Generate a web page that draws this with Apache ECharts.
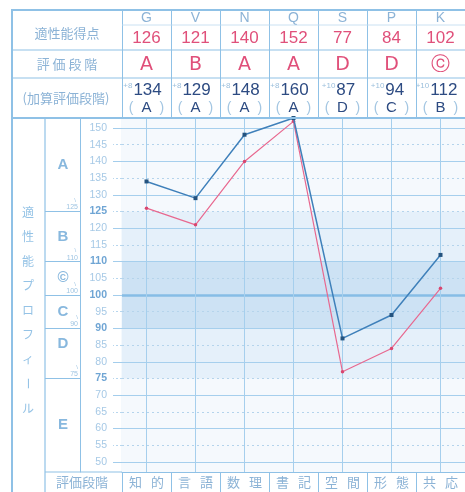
<!DOCTYPE html>
<html><head><meta charset="utf-8">
<script src="https://cdn.jsdelivr.net/npm/echarts@6/dist/echarts.min.js"></script>
<style>html,body{margin:0;padding:0;background:#fff}#c{width:465px;height:492px}</style>
</head><body><div id="c"></div>
<script>
// ---- data ----
const categories = ['知的','言語','数理','書記','空間','形態','共応'];
const codes = ['G','V','N','Q','S','P','K'];
const scores = [126,121,140,152,77,84,102];
const grades = ['A','B','A','A','D','D','ⓒ'];
const bonus = ['+8','+8','+8','+8','+10','+10','+10'];
const adjusted = [134,129,148,160,87,94,112];
const adjustedGrades = ['A','A','A','A','D','C','B'];
const scoreLine = [126,121,140,152,77,84,102];
const adjustedLine = [134,129,148,153,87,94,112]; // Q drawn at the top edge
const yLabels = [50,55,60,65,70,75,80,85,90,95,100,105,110,115,120,125,130,135,140,145,150];
const majorTicks = [50,60,70,80,90,100,110,120,130,140,150];
const minorTicks = [55,65,75,85,95,105,115,125,135,145];
const gradeBounds = [125,110,100,90,75];
const gradeNames = ['A','B','©','C','D','E'];
const gradeNamePos = [139,117.5,105,95,85.5,61];
const profileTitle = '適性能プロフィール';
const rowTitles = ['適性能得点','評 価 段 階','(加算評価段階)'];
const bottomTitle = '評価段階';

// ---- styles ----
const JP = '"Noto Sans CJK JP", sans-serif';
const NUM = '"Liberation Sans", Arial, sans-serif';
const FORM = '#8fc1e6';
const TXT = '#8cb3d6';
const PINK = '#e0507a';
const NAVY = '#2d4b82';
const Y_MIN = 47, Y_MAX = 153;

const chart = echarts.init(document.getElementById('c'));

function topAxis(offset, formatter, rich, fontSize, color, fontFamily) {
  return {
    type: 'category', data: codes, position: 'top', offset: offset, boundaryGap: true,
    axisLine: {show: false}, axisTick: {show: false}, splitLine: {show: false},
    axisLabel: {interval: 0, margin: 0, verticalAlign: 'middle', formatter: formatter,
      rich: rich, fontSize: fontSize, color: color, fontFamily: fontFamily}
  };
}

const graphic = [];
function L(x1,y1,x2,y2,w,c){graphic.push({type:'line',silent:true,z:50,shape:{x1,y1,x2,y2},style:{stroke:c||FORM,lineWidth:w||1}});}
function T(x,y,text,size,color,extra){graphic.push(Object.assign({type:'text',silent:true,z:50,x:x,y:y,style:{text:text,fill:color||TXT,font:(size||13)+'px '+JP,align:'center',verticalAlign:'middle'}},extra||{}));}
L(12,10,465,10,2);
L(12,9,12,492,2);
L(122,25,465,25,0.8,'#bcd9ef');
L(12,50,465,50,1.2);
L(12,78,465,78,1.2);
L(12,118,465,118,2);
L(45,118,45,492,1.2);
L(45,472,122,472,1.2);
T(67,33,rowTitles[0],13);
T(67,64,rowTitles[1],13);
T(66,98,rowTitles[2],13);
T(82,482,bottomTitle,13);
for (let i=0;i<profileTitle.length;i++){
  const ch = profileTitle[i];
  const y = 212 + i*24.5;
  if (ch === 'ー') T(28,y,ch,12,'#95c3e6',{rotation:-Math.PI/2});
  else T(28,y,ch,12,'#95c3e6');
}

const option = {
  animation: false,
  backgroundColor: '#ffffff',
  grid: {left:122, top:118, width:348, height:354},
  graphic: graphic,
  xAxis: [
    {type:'category', data:categories, position:'bottom', boundaryGap:true,
     axisLine:{show:true, lineStyle:{color:FORM, width:1.2}},
     axisTick:{show:true, length:20, lineStyle:{color:FORM, width:1}},
     axisLabel:{interval:0, margin:4, fontSize:13, color:TXT, fontFamily:JP,
       formatter: v => v[0] + '\u2002\u2009' + v[1]},
     splitLine:{show:false}},
    {type:'category', data:codes, position:'top', offset:0, boundaryGap:true,
     axisLine:{show:false}, axisTick:{show:true, length:108, lineStyle:{color:FORM, width:1}},
     axisLabel:{show:false}, splitLine:{show:false}},
    topAxis(100, (v,i) => codes[i], null, 14, TXT, NUM),
    topAxis(80, (v,i) => String(scores[i]), null, 17, PINK, NUM),
    topAxis(53, (v,i) => grades[i], null, 19, PINK, '"DejaVu Sans", sans-serif'),
    topAxis(28, (v,i) => '{s|' + bonus[i] + '}{n|' + adjusted[i] + '}',
      {s:{fontSize:8, color:'#9bbfdc', verticalAlign:'top', fontFamily:NUM},
       n:{fontSize:17, color:NAVY, fontFamily:NUM, padding:[0,8,0,1]}}, 17, NAVY, NUM),
    topAxis(10, (v,i) => '{p|(}{g|' + adjustedGrades[i] + '}{p|)}',
      {p:{fontSize:14, color:'#a3c6e2', fontFamily:NUM},
       g:{fontSize:15, color:NAVY, fontFamily:NUM, width:26, align:'center'}}, 15, NAVY, NUM)
  ],
  yAxis: [
    {type:'value', min:Y_MIN, max:Y_MAX, position:'left', offset:0,
     axisLine:{show:true, lineStyle:{color:FORM, width:1.2}},
     axisTick:{show:true, customValues:majorTicks, length:9, lineStyle:{color:'#a3cdec', width:1}},
     axisLabel:{customValues:yLabels, margin:15, fontFamily:NUM,
       formatter: v => gradeBounds.indexOf(v) >= 0 ? '{b|' + v + '}' : '{r|' + v + '}',
       rich:{b:{fontSize:10.5, color:'#6fa5d4', fontWeight:'bold', fontFamily:NUM},
             r:{fontSize:10.5, color:'#a6c9e6', fontFamily:NUM}}},
     splitLine:{show:false}},
    {type:'value', min:Y_MIN, max:Y_MAX, position:'left', offset:0,
     axisLine:{show:false},
     axisTick:{show:true, customValues:minorTicks, length:9, lineStyle:{color:'#b7d6ee', width:1, type:[2,2]}},
     axisLabel:{show:false}, splitLine:{show:false}},
    {type:'value', min:Y_MIN, max:Y_MAX, position:'left', offset:42,
     axisLine:{show:true, lineStyle:{color:FORM, width:1}},
     axisTick:{show:true, customValues:gradeBounds, length:35, lineStyle:{color:FORM, width:1}},
     axisLabel:{customValues:gradeNamePos, margin:17, align:'center', fontSize:15, color:'#88b8de',
       fontFamily:NUM, fontWeight:'bold',
       formatter: v => gradeNames[gradeNamePos.indexOf(v)]},
     splitLine:{show:false}},
    {type:'value', min:Y_MIN, max:Y_MAX, position:'left', offset:42,
     axisLine:{show:false}, axisTick:{show:false},
     axisLabel:{customValues:gradeBounds, margin:2, align:'right', verticalAlign:'bottom',
       formatter: v => '{t|\\}\n{n|' + v + '}',
       rich:{t:{fontSize:6, color:'#9ec4e2', lineHeight:6, align:'center', padding:[0,0,0,6]},
             n:{fontSize:7, color:'#9ec4e2', lineHeight:8, fontFamily:NUM}}},
     splitLine:{show:false}}
  ],
  series: [
    {type:'line', data:[], z:1, silent:true,
     markArea:{silent:true, z:1, data:[
       [{yAxis:Y_MAX, itemStyle:{color:'#f5f9fd'}}, {yAxis:Y_MIN}],
       [{yAxis:gradeBounds[0], itemStyle:{color:'#e5f0fa'}}, {yAxis:gradeBounds[1]}],
       [{yAxis:gradeBounds[1], itemStyle:{color:'#cde2f4'}}, {yAxis:gradeBounds[3]}],
       [{yAxis:gradeBounds[3], itemStyle:{color:'#e5f0fa'}}, {yAxis:gradeBounds[4]}]
     ]},
     markLine:{silent:true, z:3, symbol:['none','none'], label:{show:false},
       data: [].concat(
         majorTicks.map(v => ({yAxis:v, lineStyle:{type:'solid', color: v===100?'#86bde6':'#a6cfed', width: v===100?2.5:1}})),
         minorTicks.map(v => ({yAxis:v, lineStyle:{type:[2,3], color:'#b5d4ec', width:1}})),
         categories.map(c => ({xAxis:c, lineStyle:{type:'solid', color:'#a6cfed', width:1}}))
       )}},
    {name:'適性能得点', type:'line', data:scoreLine, z:10, symbol:'circle', symbolSize:3.5,
     lineStyle:{color:'#e8688f', width:1.2}, itemStyle:{color:'#d9466f'}},
    {name:'加算', type:'line', data:adjustedLine, z:11, symbol:'rect', symbolSize:4,
     lineStyle:{color:'#3f80ba', width:1.5}, itemStyle:{color:'#24537f'}}
  ]
};
chart.setOption(option);
</script>
</body></html>
